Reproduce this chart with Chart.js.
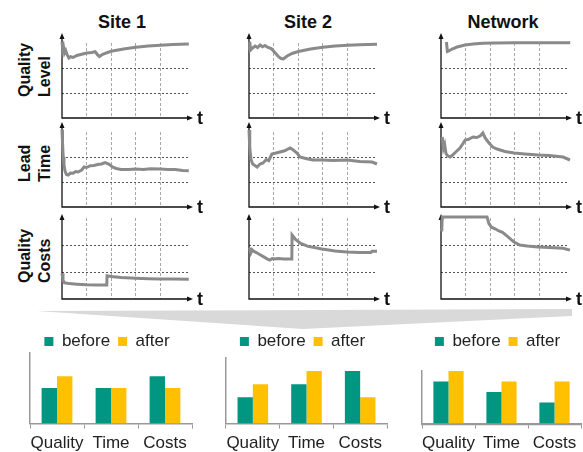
<!DOCTYPE html>
<html>
<head>
<meta charset="utf-8">
<script src="https://cdn.jsdelivr.net/npm/chart.js@4.4.1/dist/chart.umd.min.js"></script>
<style>
  body { margin: 0; width: 583px; height: 452px; overflow: hidden; position: relative; background: #fff;
         font-family: "Liberation Sans", Arial, sans-serif; color: #111; }
  canvas { position: absolute; }
  .title { position: absolute; font-weight: bold; font-size: 18px; transform: translate(-50%, -50%); white-space: nowrap; }
  .row { position: absolute; font-weight: bold; font-size: 16px; line-height: 20px; width: 58px; height: 40px;
         text-align: left; transform: translate(-50%, -50%) rotate(-90deg); white-space: nowrap; }
  .t { position: absolute; font-weight: bold; font-size: 18px; line-height: 18px; }
  .wedge { position: absolute; left: 37px; top: 309px; width: 535px; height: 20px; background: #d9d9d9;
           clip-path: polygon(0 2px, 100% 0, 100% 7px, 266px 100%); }
</style>
</head>
<body>
<div class="wedge"></div>
<script>
// ---- line panels: t (time) and value arrays, one pair per panel ----
const site1QualityT = [0, 0.03, 0.06, 0.1, 0.15, 0.2, 0.28, 0.35, 0.45, 0.6, 0.8, 1.0, 1.2, 1.35, 1.45, 1.52, 1.65, 1.85, 2.0, 2.5, 3.0, 3.5, 4.0, 4.5, 5.15];
const site1QualityV = [3.05, 2.75, 2.85, 2.6, 2.7, 2.55, 2.4, 2.45, 2.42, 2.5, 2.55, 2.6, 2.62, 2.65, 2.52, 2.46, 2.55, 2.62, 2.67, 2.76, 2.83, 2.88, 2.91, 2.94, 2.96];
const site2QualityT = [0, 0.03, 0.06, 0.15, 0.25, 0.35, 0.45, 0.55, 0.65, 0.75, 0.9, 1.05, 1.2, 1.3, 1.4, 1.55, 1.75, 2.0, 2.5, 3.0, 3.5, 4.0, 4.5, 5.2];
const site2QualityV = [2.7, 3.05, 2.72, 2.8, 2.88, 2.82, 2.92, 2.85, 2.9, 2.83, 2.78, 2.62, 2.45, 2.38, 2.36, 2.48, 2.58, 2.66, 2.76, 2.83, 2.88, 2.91, 2.93, 2.95];
const netQualityT = [0.22, 0.26, 0.32, 0.45, 0.65, 0.98, 1.3, 1.7, 2.2, 3.0, 4.0, 5.25];
const netQualityV = [3.04, 2.66, 2.68, 2.76, 2.84, 2.92, 2.96, 2.99, 3.0, 3.01, 3.01, 3.01];

const site1LeadT = [0, 0.02, 0.05, 0.08, 0.12, 0.18, 0.25, 0.35, 0.45, 0.55, 0.65, 0.8, 0.9, 1.0, 1.15, 1.3, 1.45, 1.6, 1.75, 1.9, 2.05, 2.2, 2.4, 2.7, 3.0, 3.3, 3.6, 4.0, 4.3, 4.6, 4.9, 5.15];
const site1LeadV = [3.1, 2.6, 2.0, 1.7, 1.45, 1.3, 1.28, 1.36, 1.35, 1.42, 1.4, 1.48, 1.6, 1.58, 1.65, 1.66, 1.7, 1.72, 1.78, 1.72, 1.6, 1.54, 1.5, 1.5, 1.52, 1.5, 1.53, 1.52, 1.5, 1.5, 1.46, 1.45];
const site2LeadT = [0, 0.03, 0.08, 0.15, 0.24, 0.33, 0.45, 0.57, 0.7, 0.8, 0.93, 1.1, 1.26, 1.45, 1.67, 1.8, 1.95, 2.07, 2.3, 2.6, 2.97, 3.4, 3.98, 4.5, 5.0, 5.2];
const site2LeadV = [3.08, 2.4, 1.9, 1.72, 1.66, 1.6, 1.72, 1.76, 1.9, 1.85, 2.12, 2.16, 2.2, 2.25, 2.36, 2.28, 2.16, 2.0, 1.94, 1.88, 1.88, 1.86, 1.88, 1.82, 1.8, 1.72];
const netLeadT = [0.05, 0.1, 0.15, 0.2, 0.27, 0.37, 0.45, 0.6, 0.77, 0.9, 0.98, 1.1, 1.3, 1.45, 1.6, 1.7, 1.8, 1.95, 2.1, 2.28, 2.6, 2.97, 3.4, 3.94, 4.4, 4.96, 5.24];
const netLeadV = [2.8, 2.35, 2.5, 2.15, 2.05, 2.0, 2.06, 2.2, 2.36, 2.55, 2.68, 2.7, 2.8, 2.78, 2.85, 2.96, 2.75, 2.56, 2.4, 2.32, 2.22, 2.16, 2.12, 2.08, 2.06, 2.0, 1.88];

const site1CostsT = [0, 0.04, 0.1, 0.3, 0.6, 1.0, 1.4, 1.82, 1.83, 2.0, 2.4, 3.0, 3.5, 4.0, 4.5, 5.15];
const site1CostsV = [0.95, 0.7, 0.6, 0.57, 0.55, 0.53, 0.52, 0.52, 0.86, 0.83, 0.8, 0.77, 0.75, 0.74, 0.74, 0.73];
const site2CostsT = [0, 0.04, 0.08, 0.13, 0.2, 0.3, 0.45, 0.6, 0.75, 0.85, 0.95, 1.05, 1.2, 1.4, 1.6, 1.74, 1.75, 1.9, 2.1, 2.4, 2.97, 3.5, 3.98, 4.5, 4.95, 5.0, 5.2];
const site2CostsV = [1.78, 1.9, 1.72, 1.82, 1.76, 1.72, 1.64, 1.56, 1.48, 1.44, 1.5, 1.48, 1.5, 1.48, 1.48, 1.48, 2.37, 2.2, 2.06, 1.95, 1.85, 1.78, 1.74, 1.72, 1.72, 1.77, 1.77];
const netCostsT = [0.03, 0.05, 1.0, 1.87, 1.95, 2.05, 2.2, 2.35, 2.5, 2.7, 2.85, 2.97, 3.2, 3.5, 3.94, 4.4, 4.96, 5.24];
const netCostsV = [2.5, 3.04, 3.04, 3.04, 2.78, 2.66, 2.6, 2.52, 2.47, 2.32, 2.2, 2.11, 2.0, 1.96, 1.93, 1.91, 1.88, 1.81];

// ---- bar panels ----
const barCategories = ['Quality', 'Time', 'Costs'];
const site1Before = [3, 3, 4];
const site1After = [4, 3, 3];
const site2Before = [2, 3, 4];
const site2After = [3, 4, 2];
const netBefore = [4, 3, 2];
const netAfter = [5, 4, 4];

const columnTitles = ['Site 1', 'Site 2', 'Network'];
const rowTitles = [['Quality', 'Level'], ['Lead', 'Time'], ['Quality', 'Costs']];

const FONT = '"Liberation Sans", Arial, sans-serif';
const GREEN = '#009682', YELLOW = '#FFC000';

// layout of the 3x3 grid of small line charts
const colX = [62, 249, 441];
const rowAxisY = [118, 207, 299];
const rowTopY = [43, 132, 218];
const arrowRise = [10, 10, 4];
const X_MAX = 5.2, PX_PER_T = 24.6;
const PAD = { left: 8, top: 14, right: 26, bottom: 12 };

function el(cls, text, css) {
  const d = document.createElement('div');
  d.className = cls;
  d.innerHTML = text;
  Object.assign(d.style, css);
  document.body.appendChild(d);
  return d;
}

const axisArrows = {
  id: 'axisArrows',
  beforeDatasetsDraw(chart, args, opts) {
    const { ctx, chartArea: a } = chart;
    const tipY = a.top - opts.rise, tipX = a.right + 3;
    ctx.save();
    ctx.strokeStyle = '#111';
    ctx.fillStyle = '#111';
    ctx.lineWidth = 1.3;
    ctx.beginPath();
    ctx.moveTo(a.left, tipY + 4);
    ctx.lineTo(a.left, a.bottom);
    ctx.lineTo(tipX - 4, a.bottom);
    ctx.stroke();
    ctx.beginPath();
    ctx.moveTo(a.left, tipY);
    ctx.lineTo(a.left - 2.5, tipY + 6);
    ctx.lineTo(a.left + 2.5, tipY + 6);
    ctx.closePath();
    ctx.fill();
    ctx.beginPath();
    ctx.moveTo(tipX, a.bottom);
    ctx.lineTo(tipX - 6, a.bottom - 2.5);
    ctx.lineTo(tipX - 6, a.bottom + 2.5);
    ctx.closePath();
    ctx.fill();
    ctx.restore();
  }
};

function linePanel(col, row, ts, vs) {
  const areaW = X_MAX * PX_PER_T;
  const areaH = rowAxisY[row] - rowTopY[row];
  const c = document.createElement('canvas');
  c.width = Math.round(PAD.left + areaW + PAD.right);
  c.height = Math.round(PAD.top + areaH + PAD.bottom);
  c.style.left = (colX[col] - PAD.left) + 'px';
  c.style.top = (rowTopY[row] - PAD.top) + 'px';
  document.body.appendChild(c);

  new Chart(c, {
    type: 'line',
    data: {
      datasets: [{
        data: ts.map((t, i) => ({ x: t, y: vs[i] })),
        borderColor: '#8a8a8a', borderWidth: 3, pointRadius: 0, tension: 0, clip: false
      }]
    },
    options: {
      responsive: false, animation: false,
      layout: { padding: PAD },
      plugins: { legend: { display: false }, tooltip: { enabled: false }, axisArrows: { rise: arrowRise[row] } },
      scales: {
        x: {
          type: 'linear', min: 0, max: X_MAX,
          ticks: { display: false, stepSize: 1 },
          grid: {
            drawTicks: false, lineWidth: 1,
            color: ctx => (ctx.tick && Number.isInteger(ctx.tick.value) && ctx.tick.value > 0) ? '#a8a8a8' : 'rgba(0,0,0,0)'
          },
          border: { display: false, dash: [3, 2] }
        },
        y: {
          min: 0, max: 3,
          ticks: { display: false, stepSize: 1 },
          grid: {
            drawTicks: false, lineWidth: 1,
            color: ctx => (ctx.tick && (ctx.tick.value === 1 || ctx.tick.value === 2)) ? '#555' : 'rgba(0,0,0,0)'
          },
          border: { display: false, dash: [2, 2] }
        }
      }
    },
    plugins: [axisArrows]
  });

  const tipX = colX[col] + areaW + 3;
  el('t', 't', { left: (tipX + 4) + 'px', top: (rowAxisY[row] - 9) + 'px' });
}

// legend spacing helper: moves the plot up or down under the legend
const legendGap = {
  id: 'legendGap',
  beforeInit(chart, args, opts) {
    const fit = chart.legend.fit;
    chart.legend.fit = function () {
      fit.bind(chart.legend)();
      this.height += opts.gap;
    };
  }
};

function barPanel(box, before, after, yMax, gap, baseWidth) {
  const c = document.createElement('canvas');
  c.width = box.w;
  c.height = box.h;
  c.style.left = box.left + 'px';
  c.style.top = box.top + 'px';
  document.body.appendChild(c);

  new Chart(c, {
    type: 'bar',
    data: {
      labels: barCategories,
      datasets: [
        { label: 'before', data: before, backgroundColor: GREEN, barPercentage: 1, categoryPercentage: 0.57 },
        { label: 'after', data: after, backgroundColor: YELLOW, barPercentage: 1, categoryPercentage: 0.57 }
      ]
    },
    options: {
      responsive: false, animation: false,
      layout: { padding: box.pad },
      plugins: {
        tooltip: { enabled: false },
        legendGap: { gap },
        legend: {
          position: 'top',
          labels: { boxWidth: 9, boxHeight: 9, padding: 8, color: '#222', font: { family: FONT, size: 17 } }
        }
      },
      scales: {
        x: {
          grid: { display: true, drawOnChartArea: false, offset: true, tickLength: 5, color: '#999' },
          border: { color: '#999', width: baseWidth },
          ticks: { color: '#222', padding: 5, maxRotation: 0, minRotation: 0, autoSkip: false, font: { family: FONT, size: 17 } }
        },
        y: {
          min: 0, max: yMax,
          ticks: { display: false },
          grid: { display: false },
          border: { color: '#999', width: 1.5 }
        }
      }
    },
    plugins: [legendGap]
  });
}

// titles
const titleX = [122, 308, 503];
columnTitles.forEach((t, i) => el('title', t, { left: titleX[i] + 'px', top: '22px' }));
const rowCy = [68, 153, 254];
rowTitles.forEach((lines, i) => el('row', lines.join('<br>'), { left: '35px', top: rowCy[i] + 'px' }));

linePanel(0, 0, site1QualityT, site1QualityV);
linePanel(1, 0, site2QualityT, site2QualityV);
linePanel(2, 0, netQualityT, netQualityV);
linePanel(0, 1, site1LeadT, site1LeadV);
linePanel(1, 1, site2LeadT, site2LeadV);
linePanel(2, 1, netLeadT, netLeadV);
linePanel(0, 2, site1CostsT, site1CostsV);
linePanel(1, 2, site2CostsT, site2CostsV);
linePanel(2, 2, netCostsT, netCostsV);

barPanel({ left: 0, top: 325, w: 200, h: 134, pad: { left: 22, right: 8, top: 0, bottom: 0 } }, site1Before, site1After, 6, -7.5, 1.5);
barPanel({ left: 196, top: 325, w: 200, h: 134, pad: { left: 22, right: 9, top: 0, bottom: 0 } }, site2Before, site2After, 5, -2, 1.5);
barPanel({ left: 393, top: 325, w: 190, h: 134, pad: { left: 21, right: 2, top: 0, bottom: 0 } }, netBefore, netAfter, 5, 11, 2.2);
</script>
</body>
</html>
